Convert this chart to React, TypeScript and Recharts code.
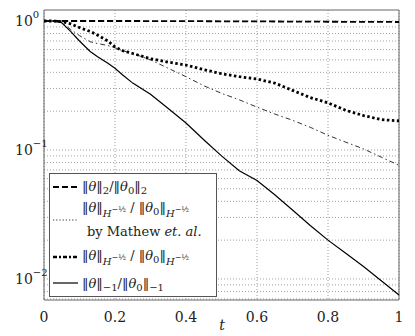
import { LineChart, Line, XAxis, YAxis, CartesianGrid, ReferenceArea } from "recharts";

const T = [0, 0.025, 0.05, 0.075, 0.1, 0.13, 0.15, 0.18, 0.2, 0.22, 0.25, 0.3, 0.35, 0.4, 0.45, 0.5, 0.55, 0.6, 0.65, 0.7, 0.75, 0.8, 0.85, 0.9, 0.95, 1];
const NORM_L2 = [1, 1, 1, 1, 1, 1, 1, 1, 1, 1, 1, 0.999, 0.998, 0.997, 0.996, 0.995, 0.994, 0.993, 0.991, 0.99, 0.988, 0.987, 0.986, 0.985, 0.984, 0.982];
const NORM_MATHEW = [1, 1, 0.97, 0.86, 0.77, 0.69, 0.67, 0.645, 0.62, 0.59, 0.56, 0.5, 0.43, 0.37, 0.315, 0.275, 0.245, 0.215, 0.19, 0.17, 0.15, 0.13, 0.115, 0.102, 0.088, 0.076];
const NORM_HALF = [1, 1, 0.99, 0.95, 0.89, 0.83, 0.78, 0.7, 0.63, 0.59, 0.56, 0.51, 0.48, 0.455, 0.42, 0.39, 0.37, 0.355, 0.33, 0.29, 0.255, 0.232, 0.203, 0.185, 0.172, 0.168];
const NORM_NEG1 = [1, 1, 0.97, 0.83, 0.7, 0.58, 0.53, 0.47, 0.43, 0.385, 0.33, 0.27, 0.21, 0.162, 0.12, 0.09, 0.069, 0.058, 0.045, 0.0343, 0.026, 0.02, 0.0158, 0.0125, 0.0097, 0.0075];

const X_TICKS = [0, 0.2, 0.4, 0.6, 0.8, 1];
const Y_TICKS = [
  0.007, 0.008, 0.009, 0.01, 0.02, 0.03, 0.04, 0.05, 0.06, 0.07, 0.08, 0.09,
  0.1, 0.2, 0.3, 0.4, 0.5, 0.6, 0.7, 0.8, 0.9, 1,
];
const Y_MIN = 0.00687;
const Y_MAX = 1.217;

const FONT = "'DejaVu Serif', serif";
const TXT = { fontFamily: FONT, fill: "#222" };

const data = T.map((t, i) => ({
  t,
  l2: NORM_L2[i],
  mathew: NORM_MATHEW[i],
  half: NORM_HALF[i],
  neg1: NORM_NEG1[i],
}));

const isDecade = (v: number) => Math.abs(Math.log10(v) - Math.round(Math.log10(v))) < 1e-9;

const YTick = ({ y, payload }: any) => {
  const v = payload.value;
  if (!isDecade(v)) return <g />;
  const e = Math.round(Math.log10(v));
  return (
    <text x={15} y={y + 5} style={{ ...TXT, fontSize: 14 }}>
      10
      <tspan dy={-8} style={{ fontSize: 10 }}>{e === 0 ? "0" : "\u2212" + Math.abs(e)}</tspan>
    </text>
  );
};

const XTick = ({ x, y, payload }: any) => (
  <text x={x} y={y + 14} textAnchor="middle" style={{ ...TXT, fontSize: 14 }}>
    {String(payload.value)}
  </text>
);

type Seg = { s: string; off?: number; size?: number; it?: boolean };

// one line of math text; off is the baseline shift (positive = down)
const MathText = ({ x, y, segs }: { x: number; y: number; segs: Seg[] }) => {
  let prev = 0;
  return (
    <text x={x} y={y} style={{ ...TXT, fontSize: 13 }}>
      {segs.map((g, i) => {
        const off = g.off || 0;
        const dy = off - prev;
        prev = off;
        return (
          <tspan key={i} dy={dy} style={{ fontSize: g.size || 13, fontStyle: g.it ? "italic" : "normal" }}>
            {g.s}
          </tspan>
        );
      })}
    </text>
  );
};

const sub = (s: string): Seg => ({ s, off: 3, size: 10 });
const hSub: Seg[] = [
  { s: "H", off: 5, size: 10, it: true },
  { s: "\u2212\u00BD", off: 0, size: 8 },
];
const theta = (zero: boolean): Seg[] =>
  zero ? [{ s: "\u2016" }, { s: "\u03B8", it: true }, sub("0"), { s: "\u2016" }] : [{ s: "\u2016" }, { s: "\u03B8", it: true }, { s: "\u2016" }];

const LEGEND = [
  { y: 187, dash: "6 3", w: 1.8, color: "#000" },
  { y: 220, dash: "1.2 2", w: 1, color: "#333" },
  { y: 257, dash: "4 2 2 2", w: 2.6, color: "#000" },
  { y: 283, dash: undefined, w: 1.2, color: "#000" },
];

export default function App() {
  return (
    <div style={{ position: "absolute", left: 0, top: 0, width: 415, height: 336, background: "#fff" }}>
      <LineChart width={415} height={336} data={data} margin={{ top: 10, right: 16, bottom: 0, left: 0 }}>
        <CartesianGrid stroke="#888" strokeDasharray="1 2" strokeWidth={0.8} verticalValues={X_TICKS} horizontalValues={Y_TICKS} />
        <XAxis
          dataKey="t"
          type="number"
          domain={[0, 1]}
          ticks={X_TICKS}
          height={36}
          axisLine={false}
          tickLine={false}
          tick={<XTick />}
        />
        <YAxis
          scale="log"
          type="number"
          domain={[Y_MIN, Y_MAX]}
          allowDataOverflow
          ticks={Y_TICKS}
          width={44}
          axisLine={false}
          tickLine={false}
          tick={<YTick />}
          interval={0}
        />
        <ReferenceArea x1={0} x2={1} y1={Y_MIN} y2={Y_MAX} fill="none" stroke="#666" strokeWidth={1} />
        <Line dataKey="l2" type="linear" stroke="#000" strokeWidth={1.8} strokeDasharray="6 3" dot={false} isAnimationActive={false} />
        <Line dataKey="mathew" type="linear" stroke="#333" strokeWidth={1} strokeDasharray="5 3 1.5 3" dot={false} isAnimationActive={false} />
        <Line dataKey="half" type="linear" stroke="#000" strokeWidth={2.8} strokeDasharray="2.5 2.5" dot={false} isAnimationActive={false} />
        <Line dataKey="neg1" type="linear" stroke="#000" strokeWidth={1.2} dot={false} isAnimationActive={false} />
      </LineChart>
      <svg width={415} height={336} style={{ position: "absolute", left: 0, top: 0, pointerEvents: "none" }}>
        <rect x={49.5} y={173.5} width={167} height={123} fill="#fff" stroke="#555" strokeWidth={1} />
        {LEGEND.map((l, i) => (
          <line key={i} x1={53} x2={78} y1={l.y} y2={l.y} stroke={l.color} strokeWidth={l.w} strokeDasharray={l.dash} />
        ))}
        <MathText x={82} y={191} segs={[...theta(false), sub("2"), { s: "/" }, ...theta(true), sub("2")]} />
        <MathText x={82} y={212} segs={[...theta(false), ...hSub, { s: " / " }, ...theta(true), ...hSub]} />
        <text x={87} y={236} style={{ ...TXT, fontSize: 13 }}>
          by Mathew <tspan style={{ fontStyle: "italic" }}>et. al.</tspan>
        </text>
        <MathText x={82} y={260} segs={[...theta(false), ...hSub, { s: " / " }, ...theta(true), ...hSub]} />
        <MathText x={82} y={288} segs={[...theta(false), sub("\u22121"), { s: "/" }, ...theta(true), sub("\u22121")]} />
        <text x={222} y={330} textAnchor="middle" style={{ ...TXT, fontSize: 14, fontStyle: "italic" }}>
          t
        </text>
      </svg>
    </div>
  );
}
